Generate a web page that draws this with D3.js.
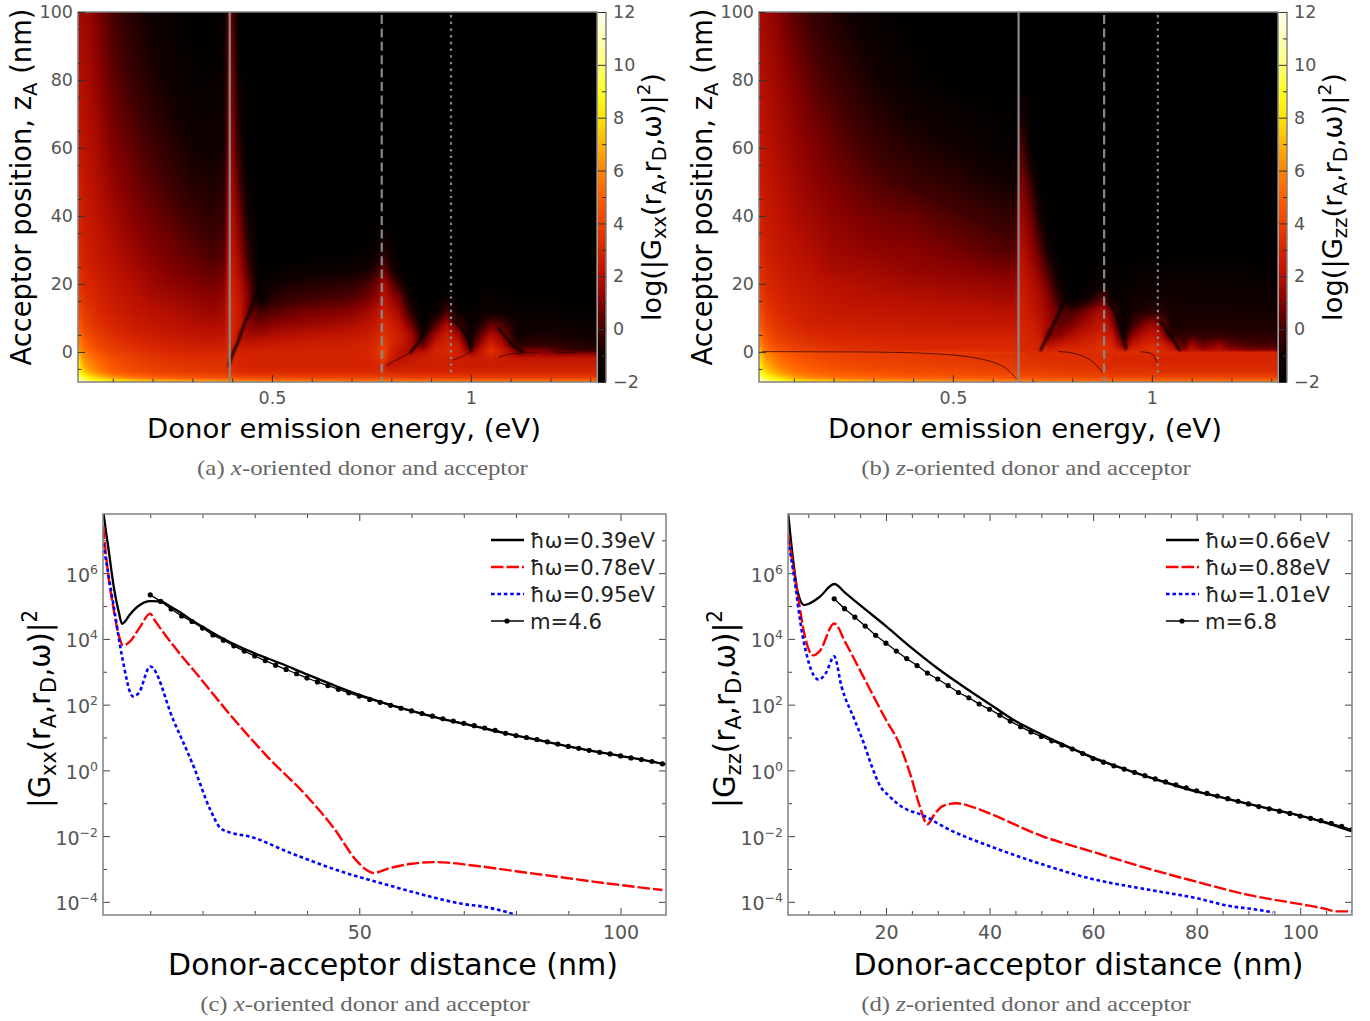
<!DOCTYPE html>
<html>
<head>
<meta charset="utf-8">
<script src="https://cdn.jsdelivr.net/npm/d3@7"></script>
<style>
body { margin: 0; background: #fff; }
svg { display: block; }
text { font-family: "DejaVu Sans", sans-serif; }
</style>
</head>
<body>
<svg id="fig" width="1370" height="1021"></svg>
<script>
// colour scale
const colourStops = [-2, -1, 0, 1, 2, 3, 4, 5, 6, 7, 8, 9, 10, 11, 12];
const colourValues = ["#000000", "#120000", "#3f0000", "#830000", "#b81000", "#d62400", "#ec4200", "#ff5f00", "#ff8400", "#ffb400", "#ffe400", "#ffff22", "#ffff78", "#ffffb4", "#fffff2"];
const colourTicks = [-2, 0, 2, 4, 6, 8, 10, 12];

// panel (a): log10 |Gxx|^2 on energy / acceptor position. Cells left out of a row are below the scale (black)
const aEnergy = [0.013, 0.03, 0.06, 0.1, 0.15, 0.2, 0.25, 0.3, 0.35, 0.38, 0.392, 0.40, 0.42, 0.44, 0.47, 0.5, 0.55, 0.6, 0.65, 0.7, 0.74, 0.765, 0.78, 0.795, 0.82, 0.85, 0.88, 0.91, 0.94, 0.97, 1.0, 1.03, 1.05, 1.08, 1.12, 1.17, 1.22, 1.27, 1.317];
const aZ = [100, 80, 60, 50, 40, 34, 28, 24, 20, 16, 12, 8, 5, 2, 0.5, -0.5, -2, -4, -6, -7.5, -8.3, -9];
const aLog = [
  [1.6,1.5,1.0,0.1,-0.6,-1.2,-1.6,-2,-2,-1.6,0.8,0.4,-2],
  [2.0,1.8,1.3,0.5,-0.1,-0.7,-1.2,-1.6,-1.7,-1.3,1.1,0.9,-1.5],
  [2.4,2.1,1.7,1.0,0.5,0,-0.5,-1,-1.2,-0.9,1.4,1.3,-0.6],
  [2.7,2.3,1.9,1.3,0.8,0.3,-0.1,-0.6,-0.8,-0.5,1.7,1.6,0,-1.6],
  [3,2.5,2.1,1.6,1.1,0.7,0.3,-0.1,-0.4,-0.2,2,1.9,0.7,-1],
  [3.1,2.7,2.3,1.8,1.3,0.9,0.6,0.2,-0.1,0.1,2.2,2.1,1,-0.6,-2,-2,-2,-2,-2,-2,-2,-1.6,-1,-1.8],
  [3.3,2.8,2.4,2,1.5,1.1,0.8,0.5,0.2,0.4,2.4,2.3,1.4,-0.2,-2,-2,-2,-1.9,-1.9,-1.8,-1.5,-1,-0.2,-0.9],
  [3.5,3,2.6,2.1,1.7,1.3,1,0.7,0.5,0.7,2.5,2.5,1.6,0.2,-1.9,-1.8,-1.5,-1.4,-1.3,-1.2,-0.9,-0.2,0.8,-0.2,-1.8],
  [3.7,3.2,2.8,2.3,1.9,1.5,1.2,1,0.8,1,2.7,2.7,1.9,0.7,-1.6,-1.1,-0.8,-0.6,-0.5,-0.3,0.1,0.8,1.8,1,-0.4],
  [4,3.4,3,2.5,2.1,1.7,1.5,1.3,1.1,1.3,2.9,2.9,2.1,1,-1.7,-0.6,-0.2,0,0.1,0.3,0.7,1.3,2.2,1.6,0.8,-1.4,-2,-2,-1.4,-2,-2,-1.6,-1.6,-1.7,-1.8,-1.8,-1.9,-1.9,-1.9],
  [4.4,3.7,3.2,2.7,2.3,2,1.8,1.6,1.4,1.6,3,3,2.3,0.8,0,0.3,0.6,0.8,0.9,1.1,1.5,2,2.7,2.2,1.5,-0.4,-2,-1.6,0.1,-1.6,-1.8,-1.4,-1.3,-1.5,-1.6,-1.6,-1.7,-1.8,-1.8],
  [4.9,4,3.5,3,2.6,2.3,2.1,1.9,1.8,1.9,3.1,3.1,2.3,1.2,0.8,1.1,1.3,1.5,1.6,1.8,2.1,2.5,3.2,2.8,2.2,0.8,-1.8,0.2,1.8,0.2,-1.5,-0.3,0.6,0.2,-1.2,-1.2,-1.3,-1.4,-1.4],
  [5.6,4.5,3.8,3.3,2.9,2.6,2.4,2.2,2.1,2.2,3.2,3.1,1.8,1.6,1.6,1.8,2,2.1,2.2,2.3,2.5,2.9,3.5,3.1,2.7,1.6,-0.5,1.5,2.6,1.4,-1.2,0.8,1.8,1.1,-1.3,-0.8,-0.9,-1,-1.1],
  [6.3,5,4.2,3.7,3.3,3,2.8,2.7,2.6,2.7,3.3,2.9,2.5,2.3,2.4,2.5,2.6,2.7,2.7,2.8,2.9,3.2,3.9,3.2,2.5,1.6,0.5,2.5,3.0,2.4,-0.2,1.9,2.9,1.8,-0.4,-0.2,-0.4,-0.6,-0.7],
  [6.8,5.4,4.5,3.9,3.5,3.2,3,2.9,2.9,2.9,3.3,2.8,2.7,2.8,2.8,2.8,2.8,2.8,2.8,2.9,3,3.3,4.1,3.1,2.2,1.7,1.7,2.8,3.1,2.7,0.8,2.5,3.5,2.5,0.6,1.0,0.2,-0.2,-0.3],
  [7.2,5.7,4.8,4.1,3.7,3.4,3.2,3.1,3.1,3.1,3.3,3,2.9,2.9,2.9,2.9,2.9,2.9,2.9,2.9,3,3.3,4.2,3,2.1,1.9,2.3,2.9,3,2.8,1.6,2.6,3.3,2.6,1.0,1.4,1.0,1.2,1.2],
  [7.7,6.2,5.2,4.4,3.9,3.6,3.4,3.3,3.3,3.3,3.4,3.1,3,3,2.9,2.9,2.9,2.9,2.9,2.9,3,3.3,3.8,2.8,2.0,2.4,2.7,2.8,2.9,2.7,2.5,2.6,2.7,2.5,2.3,2.3,2.3,2.3,2.3],
  [8.3,6.6,5.5,4.6,4.1,3.8,3.6,3.5,3.4,3.4,3.5,3.2,3,2.9,2.9,2.9,2.9,2.9,2.9,2.9,2.9,3,3.3,2.2,2.5,2.6,2.7,2.7,2.7,2.6,2.6,2.6,2.6,2.6,2.6,2.6,2.6,2.6,2.6],
  [9,7.4,6.2,5,4.4,4.1,3.9,3.8,3.7,3.6,3.6,3.4,3.3,3.2,3.2,3.2,3.2,3.2,3.2,3.2,3.2,3.2,3.3,3.1,3,3,3,3,3,3,3,3,3,3,3,3,3,3,3],
  [10,8.8,7.5,6.4,5.6,5,4.7,4.5,4.4,4.4,4.4,4.3,4.2,4.2,4.1,4.1,4.1,4,4,4,4,4,4,3.9,3.9,3.8,3.8,3.8,3.8,3.8,3.8,3.8,3.8,3.8,3.8,3.8,3.8,3.8,3.8],
  [11,9.8,8.6,7.8,7.2,6.7,6.4,6.1,6,5.9,5.8,5.7,5.6,5.5,5.4,5.4,5.3,5.3,5.3,5.2,5.2,5.2,5.2,5.2,5.2,5.2,5.2,5.2,5.2,5.2,5.2,5.2,5.2,5.2,5.2,5.2,5.2,5.2,5.2],
  [12,10.8,9.2,8.6,8.3,8,7.9,7.8,7.7,7.6,7.5,7.4,7.3,7.2,7.1,7,6.9,6.8,6.7,6.6,6.5,6.5,6.5,6.4,6.3,6.2,6.1,6,6,6,6,6,6,6,6,6,6,6,6]
];
// thin minima of panel (a), as [energy, z]
const aDarkLines = [
  [[0.392,-4],[0.40,-1],[0.415,3],[0.43,8],[0.445,12],[0.46,17],[0.475,22]],
  [[0.847,-0.3],[0.872,3.5],[0.88,6]],
  [[0.95,10],[0.975,7],[0.9975,2.6],[1.0,0.5]],
  [[1.07,7],[1.09,4],[1.11,1.5],[1.13,0]]
];
const aThinLines = [
  [[0.785,-4.2],[0.81,-2.5],[0.847,-0.3]],
  [[0.955,-2.4],[0.98,-1.2],[1.0,0.2]],
  [[1.07,-1.5],[1.1,-0.6],[1.13,-0.2],[1.17,-0.1]],
  [[1.22,-0.2],[1.265,-0.2]]
];
const aMarkers = [0.394, 0.776, 0.95];

// panel (b): log10 |Gzz|^2
const bEnergy = [0.013, 0.03, 0.06, 0.1, 0.15, 0.2, 0.3, 0.4, 0.5, 0.58, 0.63, 0.655, 0.668, 0.68, 0.7, 0.72, 0.74, 0.77, 0.8, 0.83, 0.86, 0.875, 0.885, 0.9, 0.93, 0.95, 0.98, 1.0, 1.02, 1.05, 1.08, 1.1, 1.13, 1.17, 1.2, 1.25, 1.317];
const bZ = [100, 80, 60, 50, 40, 30, 24, 20, 16, 12, 8, 5, 2, 0.8, 0.3, -0.1, -1, -2, -4, -6, -7.5, -8.3, -9];
const bLog = [
  [1.6,1.5,1.1,0.4,-0.2,-0.7,-1.6],
  [2,1.8,1.5,1,0.4,0,-0.9,-1.6],
  [2.4,2.1,1.8,1.4,1,0.6,-0.1,-0.6,-1,-1.4,-1.7,-1.8,0.4,-0.2],
  [2.6,2.3,2,1.6,1.2,0.9,0.3,-0.1,-0.4,-0.8,-1,-1.1,1,0.7,-0.4],
  [2.9,2.5,2.2,1.8,1.5,1.2,0.8,0.6,0.2,-0.1,-0.3,-0.3,1.5,1.3,0.5,-1],
  [3.2,2.8,2.4,2.1,1.8,1.5,1.2,1.1,0.8,0.5,0.3,0.3,2,1.8,1.2,0.3,-1.2,-2,-2,-2,-2,-1.7,-1.7],
  [3.5,3,2.6,2.3,2,1.7,1.6,1.3,1.2,1,0.9,0.9,2.3,2.1,1.6,1,0,-1.8,-2,-2,-1.8,-1.6,-1.6,-1.8,-1.9,-1.7,-1.6,-1.6,-1.6,-1.6,-1.6,-1.6,-1.6,-1.6,-1.6,-1.7,-1.7],
  [3.7,3.2,2.8,2.5,2.2,2,1.8,1.6,1.5,1.4,1.3,1.3,2.5,2.3,1.9,1.4,0.6,-1.3,-2,-2,-1.6,-1.4,-1.4,-1.7,-1.7,-1.5,-1.3,-1.3,-1.3,-1.3,-1.3,-1.3,-1.3,-1.3,-1.4,-1.4,-1.4],
  [4,3.4,3,2.7,2.4,2.2,2,1.9,1.8,1.7,1.6,1.6,2.7,2.5,2.1,1.7,1.1,-0.5,-2,-1.4,-0.3,0.3,0,-1.5,-1.5,-1.2,-1,-1,-1,-1,-1.1,-1.1,-1.1,-1.2,-1.2,-1.2,-1.2],
  [4.4,3.7,3.2,2.9,2.6,2.4,2.3,2.2,2.1,2.1,2,2,2.9,2.7,2.3,1.9,1.4,0.3,0,0.8,1.5,1.8,1.6,0.5,-1.6,-0.9,-0.7,-0.4,-0.5,-0.9,-0.9,-0.9,-0.9,-0.9,-0.9,-1,-1],
  [4.9,4,3.5,3.1,2.8,2.7,2.6,2.5,2.4,2.4,2.4,2.4,3,2.9,2.6,2.2,1.5,0.4,1,1.6,2.1,2.4,2.2,1.4,-1.6,-0.2,1,1.4,1.2,-0.9,-0.8,-0.7,-0.7,-0.7,-0.8,-0.8,-0.8],
  [5.6,4.5,3.8,3.4,3.1,3,2.9,2.8,2.8,2.8,2.8,2.8,3.1,3,2.8,2.4,0.8,1.1,1.8,2.3,2.7,2.9,2.7,2.2,-0.8,1,2,2.3,1.9,-0.5,-0.4,-0.2,-0.4,-0.4,-0.4,-0.5,-0.5],
  [6.3,5,4.2,3.8,3.5,3.3,3.2,3.1,3.1,3.1,3.1,3.1,3.2,3.1,3,2.8,2,2.5,2.8,3,3.2,3.4,3.3,3,0.8,2.2,3,3.2,2.9,1.9,0.2,1.6,0.6,1.4,0.5,0.2,0.1],
  [6.8,5.4,4.5,4,3.7,3.5,3.3,3.2,3.2,3.2,3.2,3.2,3.2,3.1,3.1,3,2.8,3,3.1,3.2,3.3,3.5,3.4,3.2,1.8,2.8,3.2,3.4,3.1,2.4,1,2,1.3,1.9,1.2,0.8,0.7],
  [7,5.6,4.6,4.1,3.8,3.6,3.4,3.3,3.3,3.3,3.3,3.3,3.2,3.2,3.2,3.1,3,3.1,3.2,3.3,3.4,3.6,3.5,3.3,2.4,3.1,3.3,3.5,3.2,2.7,1.8,2.3,1.9,2.2,1.8,1.5,1.4],
  [7.2,5.9,5,4.5,4.3,4.1,3.9,3.9,3.8,3.7,3.6,3.6,3.4,3.4,3.3,3.3,3.3,3.3,3.3,3.3,3.3,3.3,3.3,3.3,3.3,3.3,3.3,3.3,3.2,3.2,3.1,3.1,3.1,3.1,3.1,3.1,3.1],
  [7.5,6.2,5.2,4.6,4.2,4,3.8,3.7,3.5,3.5,3.4,3.4,3.4,3.4,3.3,3.3,3.3,3.3,3.2,3.2,3.2,3.3,3.2,3.1,3.1,3.1,3.1,3.1,3,3,3,3,3,3,3,3,3],
  [7.8,6.5,5.5,4.8,4.4,4.1,3.9,3.8,3.7,3.6,3.5,3.5,3.5,3.5,3.4,3.4,3.3,3.3,3.3,3.3,3.3,3.3,3.2,3.1,3.1,3.1,3.1,3.1,3,3,3,3,3,3,3,3,3],
  [8.5,7,6,5.1,4.7,4.4,4.1,4,3.9,3.8,3.7,3.7,3.6,3.6,3.6,3.5,3.5,3.5,3.4,3.4,3.4,3.4,3.3,3.2,3.2,3.2,3.2,3.2,3.1,3.1,3.1,3.1,3.1,3.1,3.1,3.1,3.1],
  [9.2,7.8,6.6,5.7,5.1,4.8,4.5,4.3,4.2,4.1,4,4,4,3.9,3.9,3.9,3.9,3.8,3.7,3.7,3.7,3.7,3.6,3.5,3.5,3.5,3.5,3.5,3.4,3.4,3.4,3.4,3.4,3.4,3.4,3.4,3.4],
  [10.2,9,7.8,6.6,5.9,5.5,5.1,4.9,4.8,4.7,4.6,4.6,4.5,4.5,4.5,4.4,4.4,4.3,4.3,4.3,4.2,4.2,4.2,4.1,4.1,4.1,4.1,4.1,4.1,4.1,4.1,4.1,4.1,4.1,4.1,4.1,4.1],
  [11.2,10,8.8,7.8,7.2,6.8,6.2,6,5.8,5.6,5.5,5.4,5.4,5.3,5.3,5.2,5.2,5.2,5.2,5.2,5.2,5.2,5.2,5.2,5.2,5.2,5.2,5.2,5.2,5.2,5.2,5.2,5.2,5.2,5.2,5.2,5.2],
  [12,11.2,9.8,8.8,8.4,8,7.7,7.5,7.3,7.1,7,7,6.9,6.8,6.8,6.7,6.7,6.6,6.5,6.5,6.4,6.4,6.3,6.2,6.1,6.1,6.1,6.1,6.1,6.1,6.1,6.1,6.1,6.1,6.1,6.1,6.1]
];
const bDarkLines = [
  [[0.72,0.5],[0.74,5],[0.765,11],[0.785,16]],
  [[0.89,15],[0.91,11],[0.925,6],[0.935,1]],
  [[1.02,9],[1.045,5],[1.07,0.5]]
];
const bThinLines = [
  [[0.02,0.1],[0.2,0],[0.3,-0.05],[0.43,-0.4],[0.53,-1.3],[0.6,-3],[0.635,-5],[0.66,-8]],
  [[0.765,0.1],[0.8,-0.3],[0.84,-2],[0.865,-4.5],[0.875,-6]],
  [[0.97,0.05],[1.0,-0.6],[1.012,-3]]
];
const bMarkers = [0.665, 0.88, 1.015];

// panel (c): distance in nm, log10 |Gxx|^2
const cBlackX = [1, 1.5, 2, 3, 4, 4.6, 5, 6, 7, 8, 9, 10, 12, 14, 16, 18, 20, 22, 25, 30, 35, 40, 45, 50, 55, 60, 65, 70, 75, 80, 85, 90, 95, 100, 105, 108.7];
const cBlackY = [7.9, 7.3, 6.75, 5.6, 4.8, 4.46, 4.5, 4.72, 4.9, 5.03, 5.12, 5.15, 5.14, 4.97, 4.78, 4.56, 4.37, 4.18, 3.92, 3.56, 3.25, 2.92, 2.6, 2.3, 2.04, 1.81, 1.6, 1.42, 1.23, 1.06, 0.9, 0.73, 0.58, 0.44, 0.3, 0.18];
const cRedX = [1, 2, 3, 4, 4.8, 6, 8, 10, 10.8, 14.8, 19.6, 25.3, 32.4, 40, 45.1, 49.6, 51.3, 52.7, 55.9, 60, 64.3, 72.6, 81, 89, 97.5, 108];
const cRedY = [7.42, 5.9, 4.9, 4.1, 3.8, 3.9, 4.35, 4.77, 4.58, 3.72, 2.8, 1.69, 0.42, -0.79, -1.75, -2.77, -3.02, -3.12, -2.97, -2.84, -2.79, -2.91, -3.09, -3.26, -3.44, -3.64];
const cBlueX = [1, 3, 4.6, 6.7, 7.8, 10, 14.4, 18.3, 21.5, 23.4, 24.9, 29.2, 36.8, 46.4, 55.3, 64.3, 70, 73.5, 78.4, 80];
const cBlueY = [6.9, 5, 3.47, 2.25, 2.35, 3.16, 1.54, 0.12, -1.2, -1.75, -1.87, -2.02, -2.51, -3.07, -3.48, -3.87, -4.07, -4.14, -4.32, -4.4];
const cFitX = [10, 12, 14, 16, 18, 20, 22, 24, 26, 28, 30, 32, 34, 36, 38, 40, 42, 44, 46, 48, 50, 52, 54, 56, 58, 60, 62, 64, 66, 68, 70, 72, 74, 76, 78, 80, 82, 84, 86, 88, 90, 92, 94, 96, 98, 100, 102, 104, 106, 108];
const cFitY = [5.34, 5.14, 4.91, 4.7, 4.53, 4.33, 4.12, 3.96, 3.79, 3.63, 3.48, 3.34, 3.2, 3.07, 2.94, 2.81, 2.69, 2.58, 2.47, 2.36, 2.26, 2.16, 2.07, 1.98, 1.89, 1.81, 1.73, 1.65, 1.57, 1.5, 1.43, 1.36, 1.29, 1.22, 1.13, 1.06, 1.0, 0.94, 0.87, 0.8, 0.73, 0.67, 0.61, 0.55, 0.5, 0.44, 0.38, 0.33, 0.27, 0.2];
const cLegend = ["ħω=0.39eV", "ħω=0.78eV", "ħω=0.95eV", "m=4.6"];

// panel (d): distance in nm, log10 |Gzz|^2
const dBlackX = [1.1, 2.15, 3, 4.2, 5.1, 7.2, 10, 12.2, 15.6, 20, 25, 30, 36, 40, 45, 50, 55, 60, 65, 70, 75, 80, 85, 90, 95, 100, 105, 110];
const dBlackY = [7.83, 6.3, 5.4, 5.03, 5.07, 5.28, 5.67, 5.39, 4.95, 4.39, 3.72, 3.1, 2.44, 2.02, 1.5, 1.1, 0.73, 0.39, 0.1, -0.17, -0.42, -0.65, -0.83, -1.02, -1.2, -1.38, -1.6, -1.86];
const dRedX = [1.1, 3, 4.2, 5.9, 7.2, 10, 12.2, 15.6, 20, 22.3, 24.8, 26.5, 28, 29.4, 31, 33.6, 36.5, 40, 50, 60, 70, 80, 90, 100, 104.5, 107, 110];
const dRedY = [7.2, 5.3, 4.18, 3.5, 3.63, 4.47, 3.88, 2.86, 1.54, 0.9, -0.17, -1.08, -1.64, -1.33, -1.08, -1.0, -1.1, -1.31, -1.99, -2.48, -2.96, -3.39, -3.79, -4.07, -4.2, -4.29, -4.29];
const dBlueX = [1.1, 2.15, 3.8, 5.1, 7, 8.4, 10, 11.4, 13.9, 15.6, 17.2, 18.9, 20.6, 23, 27.3, 32.3, 40, 50, 60, 70, 80, 86.8, 90, 94.8];
const dBlueY = [7, 6, 4.18, 3.27, 2.76, 2.96, 3.47, 2.56, 1.55, 0.88, 0.15, -0.48, -0.78, -1.1, -1.38, -1.81, -2.3, -2.85, -3.31, -3.61, -3.89, -4.14, -4.2, -4.32];
const dFitX = [10, 12, 14, 16, 18, 20, 22, 24, 26, 28, 30, 32, 34, 36, 38, 40, 42, 44, 46, 48, 50, 52, 54, 56, 58, 60, 62, 64, 66, 68, 70, 72, 74, 76, 78, 80, 82, 84, 86, 88, 90, 92, 94, 96, 98, 100, 102, 104, 106, 108, 110];
const dFitY = [5.22, 4.92, 4.66, 4.39, 4.11, 3.87, 3.63, 3.4, 3.19, 2.96, 2.78, 2.58, 2.37, 2.21, 2.02, 1.86, 1.68, 1.5, 1.33, 1.17, 1.03, 0.9, 0.77, 0.65, 0.51, 0.36, 0.25, 0.14, 0.04, -0.06, -0.16, -0.26, -0.35, -0.44, -0.53, -0.62, -0.7, -0.78, -0.86, -0.94, -1.02, -1.1, -1.17, -1.24, -1.31, -1.39, -1.46, -1.53, -1.61, -1.7, -1.8];
const dLegend = ["ħω=0.66eV", "ħω=0.88eV", "ħω=1.01eV", "m=6.8"];

const grey = "#555", frameGrey = "#808080";
const redDash = "12.5,3", blueDash = "3.6,2.8";
const svg = d3.select("#fig");
const defs = svg.append("defs");

const colour = d3.scaleLinear().domain(colourStops).range(colourValues).clamp(true);

defs.append("filter").attr("id", "soft").append("feGaussianBlur").attr("stdDeviation", 1.1);
defs.append("filter").attr("id", "softer").append("feGaussianBlur").attr("stdDeviation", 0.4);
const grad = defs.append("linearGradient").attr("id", "barGrad")
  .attr("x1", 0).attr("x2", 0).attr("y1", 1).attr("y2", 0);
grad.selectAll("stop").data(colourStops).join("stop")
  .attr("offset", d => (d + 2) / 14)
  .attr("stop-color", d => colour(d));

// write text, stretched along its direction so it spans len pixels
function label(parent, parts, x, y, len, size, rotate, fill) {
  const g = parent.append("g");
  const t = g.append("text").attr("font-size", size).attr("text-anchor", "middle").attr("fill", fill);
  parts.forEach(p => {
    const s = t.append("tspan").text(p.t);
    if (p.font) s.style("font-family", p.font);
    if (p.italic) s.attr("font-style", "italic");
    if (p.sub) s.attr("font-size", size * 0.72).attr("dy", size * 0.2);
    if (p.sup) s.attr("font-size", size * 0.68).attr("dy", -size * 0.42);
    if (p.back) s.attr("dy", p.back * size);
  });
  const k = len / t.node().getComputedTextLength();
  g.attr("transform", `translate(${x},${y}) rotate(${rotate}) scale(${k},1)`);
}

function caption(letter, axisName, x, y, len) {
  label(svg, [
    { t: "(" + letter + ") ", font: "Liberation Serif" },
    { t: axisName, font: "Liberation Serif", italic: true },
    { t: "-oriented donor and acceptor", font: "Liberation Serif" }
  ], x, y, len, 21, 0, "#666");
}

function styleAxis(g, size) {
  g.select(".domain").remove();
  g.selectAll("line").attr("stroke-width", 1);
  g.selectAll("text").attr("fill", grey).style("font-size", (size || 17.5) + "px").attr("font-family", "DejaVu Sans");
}

function heatPanel(cfg) {
  const w = 519, h = 370;
  const g = svg.append("g").attr("transform", `translate(${cfg.left},12)`);
  const x = d3.scaleLinear().domain([0.0126, 1.317]).range([0, w]);
  const y = d3.scaleLinear().domain([100, -8.85]).range([0, h]);

  // fill the map pixel by pixel from the table of read values
  const canvas = document.createElement("canvas");
  canvas.width = w; canvas.height = h;
  const ctx = canvas.getContext("2d");
  const img = ctx.createImageData(w, h);
  const cols = cfg.energy, rows = cfg.z;
  const cell = (r, c) => { const v = cfg.values[r][c]; return v === undefined ? -2 : v; };
  for (let py = 0; py < h; py++) {
    const zv = y.invert(py + 0.5);
    let r = 0;
    while (r < rows.length - 2 && rows[r + 1] > zv) r++;
    const tr = Math.max(0, Math.min(1, (rows[r] - zv) / (rows[r] - rows[r + 1])));
    for (let px = 0; px < w; px++) {
      const ev = x.invert(px + 0.5);
      let c = Math.min(cols.length - 2, Math.max(0, d3.bisectRight(cols, ev) - 1));
      const tc = Math.max(0, Math.min(1, (ev - cols[c]) / (cols[c + 1] - cols[c])));
      const top = cell(r, c) * (1 - tc) + cell(r, c + 1) * tc;
      const bot = cell(r + 1, c) * (1 - tc) + cell(r + 1, c + 1) * tc;
      const col = d3.rgb(colour(top * (1 - tr) + bot * tr));
      const i = (py * w + px) * 4;
      img.data[i] = col.r; img.data[i + 1] = col.g; img.data[i + 2] = col.b; img.data[i + 3] = 255;
    }
  }
  ctx.putImageData(img, 0, 0);
  g.append("image").attr("width", w).attr("height", h).attr("href", canvas.toDataURL());

  const clip = "clip-" + cfg.name;
  defs.append("clipPath").attr("id", clip).append("rect").attr("width", w).attr("height", h);
  const dark = d3.line().x(d => x(d[0])).y(d => y(d[1])).curve(d3.curveCatmullRom);
  g.append("g").attr("clip-path", `url(#${clip})`).attr("filter", "url(#soft)")
    .selectAll("path").data(cfg.darkLines).join("path")
    .attr("d", dark).attr("fill", "none").attr("stroke", "#000").attr("stroke-width", 2.4).attr("stroke-linecap", "round");
  g.append("g").attr("clip-path", `url(#${clip})`).attr("filter", "url(#softer)")
    .selectAll("path").data(cfg.thinLines).join("path")
    .attr("d", dark).attr("fill", "none").attr("stroke", "#300000").attr("stroke-width", 1).attr("stroke-opacity", 0.75);

  // the three marked energies
  const dashes = [null, "9,4.4", "2.4,4.3"];
  g.selectAll(".mark").data(cfg.markers).join("line").attr("class", "mark")
    .attr("x1", d => x(d)).attr("x2", d => x(d))
    .attr("y1", (d, i) => i ? 3 : 0).attr("y2", (d, i) => i === 2 ? h - 5 : h)
    .attr("stroke", "#808a90").attr("stroke-width", 2.2)
    .attr("stroke-dasharray", (d, i) => dashes[i]);

  g.append("rect").attr("width", w).attr("height", h).attr("fill", "none")
    .attr("stroke", frameGrey).attr("stroke-width", 1.5);

  // axes, ticks point into the map
  const darkTicks = a => a.selectAll("line").attr("stroke", "#333");
  g.append("g").attr("transform", `translate(0,${h})`)
    .call(d3.axisBottom(x).tickValues(d3.range(0.1, 1.31, 0.1)).tickSize(-3.5).tickFormat(""))
    .call(styleAxis).call(darkTicks);
  g.append("g").attr("transform", `translate(0,${h})`)
    .call(d3.axisBottom(x).tickValues([0.5, 1]).tickSize(-7).tickPadding(10).tickFormat(d => d))
    .call(styleAxis).call(darkTicks);
  g.append("g").call(d3.axisLeft(y).tickValues(d3.range(-5, 100, 10)).tickSize(-3.5).tickFormat(""))
    .call(styleAxis).call(darkTicks);
  g.append("g").call(d3.axisLeft(y).tickValues([0, 20, 40, 60, 80, 100]).tickSize(-7).tickPadding(5))
    .call(styleAxis).call(darkTicks);

  // colour bar
  const barY = d3.scaleLinear().domain([-2, 12]).range([h, 0]);
  const bar = g.append("g").attr("transform", `translate(${w + 1},0)`);
  bar.append("rect").attr("width", 8).attr("height", h).attr("fill", "url(#barGrad)");
  bar.append("line").attr("x1", 8).attr("x2", 8).attr("y2", h).attr("stroke", frameGrey).attr("stroke-width", 1.5);
  bar.append("g").attr("transform", "translate(8,0)")
    .call(d3.axisRight(barY).tickValues(d3.range(-1, 12, 2)).tickSize(-4).tickFormat(""))
    .call(styleAxis).call(darkTicks);
  bar.append("g").attr("transform", "translate(8,0)")
    .call(d3.axisRight(barY).tickValues(colourTicks).tickSize(-8).tickPadding(7).tickFormat(d => d < 0 ? "−" + (-d) : d))
    .call(styleAxis).call(darkTicks);

  label(svg, [{ t: "Donor emission energy, (eV)" }], cfg.left + 266, 438, 394, 27, 0, "#000");
  label(svg, [
    { t: "Acceptor position, z" }, { t: "A", sub: true }, { t: " (nm)", back: -0.2 }
  ], cfg.left - 47, 187, 357, 28, -90, "#000");
  label(svg, [
    { t: "log(|G" }, { t: cfg.sub, sub: true }, { t: "(r", back: -0.2 }, { t: "A", sub: true }, { t: ",r", back: -0.2 },
    { t: "D", sub: true }, { t: ",ω)|", back: -0.2 }, { t: "2", sup: true }, { t: ")", back: 0.42 }
  ], cfg.left + 583, 197, 248, 27, -90, "#000");
}

function linePanel(cfg) {
  const w = cfg.w, h = 401;
  const g = svg.append("g").attr("transform", `translate(${cfg.left},514)`);
  const x = d3.scaleLinear().domain(cfg.xDomain).range([0, w]);
  const y = d3.scaleLog().domain([Math.pow(10, 7.8), Math.pow(10, -4.4)]).range([0, h]);
  const exps = d3.range(-4, 8);

  const addAxis = (gen, dx, dy) => {
    const a = g.append("g").attr("transform", `translate(${dx},${dy})`).call(gen).call(styleAxis, 19);
    a.selectAll("line").attr("stroke", "#444");
    return a;
  };
  addAxis(d3.axisBottom(x).tickValues(cfg.minor).tickSize(-4).tickFormat(""), 0, h);
  addAxis(d3.axisTop(x).tickValues(cfg.minor).tickSize(-4).tickFormat(""), 0, 0);
  addAxis(d3.axisBottom(x).tickValues(cfg.major).tickSize(-7).tickPadding(11).tickFormat(d => d), 0, h);
  addAxis(d3.axisTop(x).tickValues(cfg.major).tickSize(-7).tickFormat(""), 0, 0);
  const odd = exps.filter(e => e % 2).map(e => Math.pow(10, e));
  const even = exps.filter(e => !(e % 2)).map(e => Math.pow(10, e));
  addAxis(d3.axisLeft(y).tickValues(odd).tickSize(-4).tickFormat(""), 0, 0);
  addAxis(d3.axisRight(y).tickValues(odd).tickSize(-4).tickFormat(""), w, 0);
  addAxis(d3.axisRight(y).tickValues(even).tickSize(-7).tickFormat(""), w, 0);
  addAxis(d3.axisLeft(y).tickValues(even).tickSize(-7).tickPadding(5).tickFormat(""), 0, 0)
    .selectAll(".tick text").each(function (d) {
      const e = Math.round(Math.log10(d));
      const t = d3.select(this).text("10").attr("dy", "0.42em");
      t.append("tspan").text(e < 0 ? "−" + (-e) : e).attr("font-size", 12.5).attr("dy", -8);
    });

  const clip = "clip-" + cfg.name;
  defs.append("clipPath").attr("id", clip).append("rect").attr("width", w).attr("height", h);
  const line = d3.line().x(d => x(d[0])).y(d => y(Math.pow(10, d[1]))).curve(d3.curveMonotoneX);
  const plot = g.append("g").attr("clip-path", `url(#${clip})`);
  const draw = (xs, ys, colr, width, dash) => plot.append("path")
    .attr("d", line(xs.map((v, i) => [v, ys[i]])))
    .attr("fill", "none").attr("stroke", colr).attr("stroke-width", width).attr("stroke-dasharray", dash);

  draw(cfg.fitX, cfg.fitY, "#000", 1.3, null);
  plot.selectAll(".fit").data(cfg.fitX).join("circle").attr("class", "fit")
    .attr("cx", d => x(d)).attr("cy", (d, i) => y(Math.pow(10, cfg.fitY[i]))).attr("r", 2.6).attr("fill", "#000");
  draw(cfg.blackX, cfg.blackY, "#000", 2.3, null);
  draw(cfg.redX, cfg.redY, "#ff0000", 2.4, redDash);
  draw(cfg.blueX, cfg.blueY, "#0000ff", 2.6, blueDash);

  g.append("rect").attr("width", w).attr("height", h).attr("fill", "none")
    .attr("stroke", frameGrey).attr("stroke-width", 1.5);

  // legend
  const keyY = [26, 53, 80, 107];
  const lx = cfg.legendX - cfg.left;
  const keys = [["#000", null], ["#ff0000", redDash], ["#0000ff", blueDash], ["#000", null]];
  keyY.forEach((ky, i) => {
    g.append("line").attr("x1", lx).attr("x2", lx + 33).attr("y1", ky).attr("y2", ky)
      .attr("stroke", keys[i][0]).attr("stroke-width", i === 3 ? 1.4 : 2.3).attr("stroke-dasharray", keys[i][1]);
    if (i === 3) g.append("circle").attr("cx", lx + 16).attr("cy", ky).attr("r", 2.6).attr("fill", "#000");
    const tw = i === 3 ? 72 : 125;
    label(g, [{ t: cfg.legend[i] }], lx + 39 + tw / 2, ky + 7.5, tw, 21, 0, "#222");
  });

  label(svg, [{ t: "Donor-acceptor distance (nm)" }], cfg.xLabelX, 975, 450, 30, 0, "#000");
  label(svg, [
    { t: "|G" }, { t: cfg.sub, sub: true }, { t: "(r", back: -0.2 }, { t: "A", sub: true }, { t: ",r", back: -0.2 },
    { t: "D", sub: true }, { t: ",ω)|", back: -0.2 }, { t: "2", sup: true }
  ], cfg.yLabelX, 709, 198, 30, -90, "#000");
}

heatPanel({ name: "a", left: 78, energy: aEnergy, z: aZ, values: aLog, darkLines: aDarkLines, thinLines: aThinLines, markers: aMarkers, sub: "xx" });
heatPanel({ name: "b", left: 759, energy: bEnergy, z: bZ, values: bLog, darkLines: bDarkLines, thinLines: bThinLines, markers: bMarkers, sub: "zz" });
caption("a", "x", 362.5, 475, 331);
caption("b", "z", 1026, 475, 330);

linePanel({
  name: "c", left: 103, w: 563, xDomain: [0.96, 108.7], major: [50, 100], minor: d3.range(10, 108, 10).filter(d => d % 50),
  blackX: cBlackX, blackY: cBlackY, redX: cRedX, redY: cRedY, blueX: cBlueX, blueY: cBlueY, fitX: cFitX, fitY: cFitY,
  legend: cLegend, legendX: 491, xLabelX: 393, yLabelX: 50, sub: "xx"
});
linePanel({
  name: "d", left: 788, w: 564, xDomain: [1.08, 110], major: [20, 40, 60, 80, 100], minor: d3.range(5, 110, 5).filter(d => d % 20),
  blackX: dBlackX, blackY: dBlackY, redX: dRedX, redY: dRedY, blueX: dBlueX, blueY: dBlueY, fitX: dFitX, fitY: dFitY,
  legend: dLegend, legendX: 1166, xLabelX: 1078.5, yLabelX: 735, sub: "zz"
});
caption("c", "x", 365, 1011, 330);
caption("d", "z", 1026, 1011, 330);
</script>
</body>
</html>
